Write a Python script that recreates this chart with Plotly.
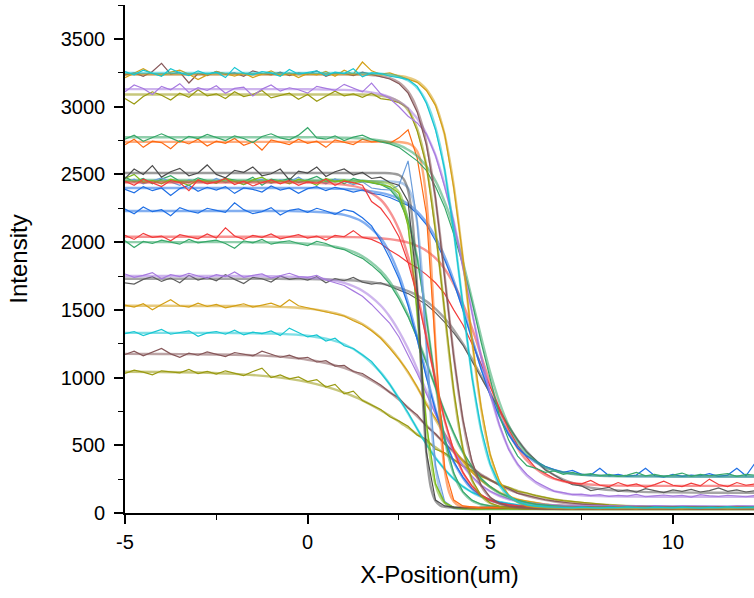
import plotly.graph_objects as go

# ---------------- data ----------------
# measured profiles (x step 0.25 from -5 to 12.25)
X_DATA = [round(-5 + 0.25 * i, 2) for i in range(70)]
# fit-curve knots
X_FIT = [-5, -4, -3, -2, -1, -0.5, 0, 0.5, 1, 1.5, 2, 2.25, 2.5, 2.625, 2.75, 2.875, 3, 3.125,
         3.25, 3.375, 3.5, 3.625, 3.75, 3.875, 4, 4.125, 4.25, 4.375, 4.5, 4.625, 4.75, 4.875,
         5, 5.25, 5.5, 5.75, 6, 6.5, 7, 7.5, 8, 9, 10, 11, 12.5]

cyan_3250 = [3260, 3235, 3270, 3245, 3225, 3280, 3250, 3230, 3265, 3240,
             3255, 3215, 3290, 3245, 3235, 3260, 3250, 3225, 3275, 3240,
             3250, 3265, 3230, 3255, 3245, 3280, 3220, 3250, 3245, 3225,
             3215, 3200, 3150, 3025, 2830, 2540, 2075, 1540, 1000, 620,
             360, 210, 130, 85, 60, 50, 48, 42, 45, 38,
             44, 40, 36, 42, 39, 45, 41, 37, 43, 40,
             38, 44, 41, 36, 42, 40, 45, 39, 41, 43]
cyan_3250_fit = [3250, 3250, 3250, 3250, 3250, 3250, 3250, 3250, 3250, 3249,
                 3243, 3236, 3222, 3210, 3194, 3170, 3139, 3096, 3035, 2955, 2846, 2711, 2534, 2322,
                 2082, 1812, 1533, 1263, 1013, 794, 611, 467, 355, 204, 123, 82, 62, 45, 41, 40,
                 40, 40, 40, 40, 40]

gold_3240 = [3215, 3250, 3280, 3245, 3230, 3255, 3270, 3240, 3200, 3235,
             3260, 3245, 3225, 3250, 3215, 3240, 3265, 3230, 3250, 3215,
             3245, 3235, 3260, 3225, 3270, 3240, 3330, 3265, 3240, 3250,
             3225, 3205, 3180, 3120, 3010, 2800, 2400, 1890, 1270, 780,
             430, 235, 135, 80, 55, 45, 40, 38, 36, 33,
             37, 35, 32, 38, 34, 36, 33, 37, 35, 34,
             36, 33, 38, 35, 34, 37, 32, 36, 35, 38]
gold_3240_fit = [3240, 3240, 3240, 3240, 3240, 3240, 3240, 3240, 3240, 3240,
                 3237, 3234, 3228, 3223, 3215, 3204, 3187, 3163, 3129, 3080, 3016, 2920, 2795, 2625,
                 2416, 2163, 1878, 1577, 1279, 1006, 772, 577, 426, 231, 131, 80, 56, 40, 36, 35,
                 35, 35, 35, 35, 35]

brown_3240 = [3235, 3250, 3225, 3260, 3320, 3240, 3255, 3175, 3245, 3230,
              3260, 3240, 3250, 3225, 3265, 3245, 3235, 3255, 3230, 3250,
              3240, 3265, 3225, 3250, 3245, 3230, 3255, 3240, 3220, 3205,
              3170, 3100, 2960, 2720, 2330, 1760, 1150, 690, 380, 205,
              115, 72, 50, 42, 36, 33, 31, 28, 32, 30,
              27, 31, 29, 33, 30, 28, 32, 29, 31, 30,
              28, 32, 30, 27, 31, 29, 33, 30, 28, 31]
brown_3240_fit = [3240, 3240, 3240, 3240, 3240, 3240, 3240, 3240, 3240, 3237,
                  3226, 3211, 3179, 3151, 3112, 3057, 2977, 2874, 2733, 2547, 2319, 2052, 1754, 1452,
                  1163, 903, 685, 508, 373, 274, 200, 149, 113, 69, 49, 39, 35, 31, 30, 30,
                  30, 30, 30, 30, 30]

olive_3090 = [3060, 3020, 3075, 3110, 3085, 3050, 3100, 3070, 3125, 3080,
              3095, 3060, 3110, 3075, 3090, 3120, 3065, 3085, 3100, 3055,
              3090, 3040, 3075, 3115, 3080, 3095, 3070, 3100, 3060, 3050,
              3030, 2990, 2820, 2570, 2080, 1490, 900, 470, 245, 128,
              74, 50, 38, 35, 31, 28, 32, 30, 27, 31,
              29, 33, 30, 28, 31, 29, 32, 30, 28, 31,
              30, 27, 32, 29, 31, 30, 28, 32, 29, 31]
olive_3090_fit = [3090, 3090, 3090, 3090, 3090, 3090, 3090, 3090, 3090, 3090,
                  3080, 3067, 3038, 3013, 2974, 2919, 2836, 2720, 2564, 2356, 2096, 1802, 1484, 1171,
                  896, 660, 477, 342, 241, 174, 125, 94, 72, 48, 38, 34, 32, 30, 30, 30,
                  30, 30, 30, 30, 30]

purple_3130 = [3110, 3160, 3135, 3090, 3150, 3125, 3170, 3105, 3140, 3120,
               3155, 3100, 3135, 3145, 3080, 3130, 3160, 3115, 3140, 3125,
               3100, 3150, 3135, 3120, 3165, 3140, 3110, 3175, 3095, 3060,
               3000, 2930, 2880, 2800, 2640, 2410, 2150, 1810, 1480, 1150,
               880, 650, 470, 360, 285, 230, 195, 160, 150, 135,
               140, 128, 135, 122, 130, 125, 138, 120, 127, 133,
               124, 130, 118, 135, 126, 122, 131, 127, 120, 129]
purple_3130_fit = [3130, 3130, 3130, 3130, 3130, 3130, 3129, 3127, 3124, 3115,
                   3092, 3070, 3037, 3016, 2989, 2952, 2913, 2862, 2799, 2724, 2642, 2540, 2423, 2290,
                   2152, 1992, 1827, 1658, 1490, 1321, 1158, 1014, 879, 647, 478, 358, 277, 185, 146, 131,
                   125, 121, 120, 120, 120]

green_2775 = [2760, 2790, 2745, 2775, 2800, 2770, 2740, 2780, 2765, 2795,
              2770, 2750, 2785, 2765, 2735, 2780, 2800, 2770, 2755, 2790,
              2845, 2770, 2760, 2785, 2750, 2775, 2790, 2760, 2740, 2725,
              2700, 2650, 2600, 2530, 2410, 2260, 2060, 1830, 1560, 1260,
              980, 720, 540, 420, 350, 330, 300, 310, 285, 300,
              280, 290, 275, 285, 270, 280, 300, 275, 285, 270,
              280, 295, 270, 285, 275, 280, 290, 270, 285, 280]
green_2775_fit = [2775, 2775, 2775, 2775, 2775, 2775, 2775, 2775, 2771, 2765,
                  2751, 2737, 2717, 2702, 2682, 2662, 2635, 2600, 2560, 2512, 2452, 2382, 2299, 2209,
                  2101, 1983, 1856, 1720, 1578, 1437, 1300, 1164, 1037, 819, 648, 525, 438, 340, 299, 282,
                  275, 271, 270, 270, 270]

orange_2740 = [2720, 2760, 2700, 2745, 2735, 2690, 2750, 2725, 2760, 2710,
               2745, 2730, 2765, 2715, 2740, 2680, 2755, 2735, 2720, 2760,
               2730, 2745, 2700, 2755, 2735, 2720, 2760, 2740, 2745, 2730,
               2770, 2830, 2620, 2210, 1220, 330, 95, 52, 45, 38,
               42, 39, 44, 37, 41, 40, 36, 43, 39, 41,
               38, 42, 40, 37, 44, 39, 41, 38, 42, 40,
               43, 38, 41, 39, 37, 42, 40, 44, 38, 41]
orange_2740_fit = [2740, 2740, 2740, 2740, 2740, 2740, 2740, 2740, 2740, 2740,
                   2740, 2740, 2739, 2736, 2729, 2712, 2670, 2562, 2319, 1863, 1236, 669, 321, 153,
                   85, 57, 47, 43, 41, 40, 40, 40, 40, 40, 40, 40, 40, 40, 40, 40,
                   40, 40, 40, 40, 40]

dgray_2510 = [2470, 2540, 2500, 2565, 2480, 2520, 2545, 2490, 2510, 2570,
              2500, 2475, 2530, 2515, 2555, 2490, 2505, 2540, 2460, 2525,
              2510, 2555, 2485, 2520, 2540, 2495, 2515, 2470, 2480, 2440,
              2420, 2300, 1650, 450, 95, 52, 44, 40, 37, 42,
              39, 41, 38, 43, 40, 36, 42, 39, 41, 38,
              40, 43, 37, 41, 39, 42, 38, 40, 44, 39,
              41, 38, 42, 40, 37, 43, 39, 41, 40, 38]
dgray_2510_fit = [2510, 2510, 2510, 2510, 2510, 2510, 2510, 2510, 2510, 2510,
                  2510, 2509, 2496, 2467, 2382, 2149, 1658, 974, 443, 186, 89, 56, 45, 42,
                  41, 40, 40, 40, 40, 40, 40, 40, 40, 40, 40, 40, 40, 40, 40, 40,
                  40, 40, 40, 40, 40]

red_2440 = [2450, 2420, 2465, 2435, 2410, 2455, 2440, 2380, 2460, 2430,
            2445, 2470, 2425, 2450, 2415, 2440, 2460, 2430, 2455, 2420,
            2445, 2435, 2465, 2420, 2450, 2440, 2420, 2300, 2250, 2160,
            2040, 1850, 1600, 1290, 970, 690, 460, 300, 200, 135,
            95, 72, 60, 52, 47, 44, 42, 39, 41, 40,
            38, 42, 40, 37, 41, 39, 43, 40, 38, 41,
            39, 42, 40, 38, 41, 40, 37, 42, 39, 41]
red_2440_fit = [2440, 2440, 2440, 2440, 2440, 2440, 2440, 2435, 2425, 2397,
                2313, 2226, 2094, 2003, 1893, 1766, 1626, 1470, 1305, 1139, 981, 825, 686, 563,
                458, 371, 299, 242, 196, 160, 131, 110, 93, 71, 58, 50, 46, 42, 40, 40,
                40, 40, 40, 40, 40]

lime_2450 = [2470, 2500, 2440, 2455, 2430, 2465, 2445, 2420, 2460, 2450,
             2435, 2470, 2445, 2425, 2460, 2480, 2440, 2455, 2430, 2465,
             2450, 2420, 2470, 2445, 2460, 2435, 2455, 2440, 2430, 2410,
             2360, 2120, 1480, 660, 215, 78, 42, 33, 31, 28,
             32, 29, 31, 30, 27, 33, 30, 28, 31, 29,
             30, 32, 28, 31, 29, 30, 33, 27, 30, 31,
             29, 31, 30, 28, 32, 30, 29, 31, 28, 30]
lime_2450_fit = [2450, 2450, 2450, 2450, 2450, 2450, 2450, 2450, 2450, 2450,
                 2445, 2431, 2368, 2286, 2131, 1869, 1484, 1049, 652, 376, 209, 120, 74, 51,
                 40, 35, 32, 31, 30, 30, 30, 30, 30, 30, 30, 30, 30, 30, 30, 30,
                 30, 30, 30, 30, 30]

lblue_2450 = [2440, 2465, 2430, 2455, 2475, 2445, 2420, 2460, 2450, 2435,
              2470, 2440, 2455, 2425, 2450, 2465, 2435, 2460, 2445, 2480,
              2440, 2455, 2430, 2465, 2450, 2425, 2445, 2400, 2390, 2385,
              2420, 2600, 2150, 1250, 350, 85, 40, 32, 30, 28,
              31, 29, 32, 28, 30, 31, 29, 33, 30, 28,
              31, 30, 28, 32, 29, 31, 30, 28, 31, 29,
              30, 32, 29, 31, 28, 30, 31, 29, 32, 30]
lblue_2450_fit = [2450, 2450, 2450, 2450, 2450, 2450, 2450, 2450, 2450, 2450,
                  2450, 2449, 2442, 2430, 2399, 2322, 2140, 1780, 1240, 700, 340, 158, 81, 50,
                  37, 33, 31, 30, 30, 30, 30, 30, 30, 30, 30, 30, 30, 30, 30, 30,
                  30, 30, 30, 30, 30]

green_2460 = [2480, 2445, 2470, 2430, 2465, 2490, 2450, 2440, 2475, 2455,
              2435, 2470, 2460, 2445, 2480, 2420, 2465, 2450, 2470, 2440,
              2460, 2485, 2445, 2465, 2430, 2470, 2450, 2440, 2425, 2390,
              2310, 2160, 1880, 1440, 960, 550, 295, 158, 95, 65,
              52, 46, 43, 40, 42, 38, 41, 39, 43, 40,
              38, 41, 42, 39, 40, 37, 42, 40, 39, 41,
              40, 38, 42, 41, 39, 40, 43, 38, 41, 40]
green_2460_fit = [2460, 2460, 2460, 2460, 2460, 2460, 2460, 2460, 2460, 2455,
                  2433, 2400, 2325, 2262, 2172, 2046, 1886, 1683, 1448, 1199, 955, 732, 546, 398,
                  289, 209, 154, 117, 91, 74, 63, 55, 50, 45, 42, 41, 40, 40, 40, 40,
                  40, 40, 40, 40, 40]

blue_2400 = [2390, 2365, 2410, 2380, 2400, 2345, 2395, 2420, 2375, 2405,
             2385, 2410, 2360, 2400, 2390, 2370, 2415, 2385, 2400, 2360,
             2395, 2410, 2380, 2405, 2390, 2370, 2385, 2360, 2350, 2330,
             2300, 2270, 2210, 2130, 2010, 1870, 1700, 1500, 1280, 1060,
             870, 710, 580, 480, 420, 380, 345, 320, 300, 315,
             285, 280, 330, 275, 285, 270, 280, 330, 275, 265,
             285, 270, 280, 275, 290, 270, 280, 330, 275, 370]
blue_2400_fit = [2400, 2400, 2400, 2400, 2400, 2400, 2400, 2397, 2393, 2384,
                 2364, 2347, 2321, 2302, 2281, 2257, 2225, 2189, 2147, 2095, 2036, 1970, 1895, 1810,
                 1716, 1616, 1510, 1401, 1290, 1182, 1075, 973, 877, 715, 585, 489, 419, 338, 300, 283,
                 276, 271, 270, 270, 270]

blue_2230 = [2245, 2210, 2260, 2225, 2240, 2195, 2255, 2230, 2215, 2250,
             2235, 2220, 2290, 2240, 2210, 2225, 2255, 2200, 2235, 2245,
             2220, 2250, 2230, 2205, 2240, 2225, 2180, 2120, 2010, 1880,
             1730, 1530, 1280, 1000, 760, 540, 380, 265, 180, 128,
             95, 75, 60, 52, 48, 44, 42, 40, 43, 39,
             41, 38, 42, 40, 37, 43, 39, 41, 40, 38,
             42, 39, 41, 40, 38, 43, 40, 39, 42, 40]
blue_2230_fit = [2230, 2230, 2230, 2230, 2230, 2229, 2226, 2219, 2201, 2151,
                 2031, 1919, 1761, 1663, 1551, 1428, 1297, 1161, 1026, 892, 767, 651, 546, 456,
                 377, 314, 259, 213, 178, 150, 125, 108, 93, 73, 60, 52, 47, 43, 41, 40,
                 40, 40, 40, 40, 40]

red_2040 = [2050, 2020, 2065, 2035, 2045, 2010, 2055, 2040, 2025, 2060,
            2030, 2105, 2045, 2020, 2050, 2035, 2060, 2025, 2040, 2055,
            2030, 2045, 2015, 2050, 2040, 2085, 2035, 2020, 1990, 1940,
            1900, 1850, 1810, 1760, 1700, 1620, 1500, 1390, 1250, 1100,
            930, 770, 620, 500, 410, 330, 290, 255, 235, 220,
            215, 240, 205, 195, 225, 200, 215, 190, 210, 235,
            205, 195, 220, 200, 250, 210, 195, 225, 205, 215]
red_2040_fit = [2040, 2040, 2040, 2040, 2040, 2040, 2040, 2040, 2038, 2035,
                2029, 2022, 2012, 2005, 1997, 1987, 1972, 1957, 1937, 1911, 1882, 1847, 1803, 1751,
                1690, 1624, 1545, 1459, 1365, 1265, 1161, 1057, 956, 763, 603, 478, 388, 281, 233, 214,
                206, 201, 200, 200, 200]

green_2000 = [2010, 1960, 2005, 1990, 2015, 2000, 1985, 2020, 1995, 2005,
              2015, 1990, 1955, 2010, 1995, 2020, 1985, 2000, 2010, 1990,
              1975, 2005, 1990, 1960, 1945, 1910, 1880, 1830, 1770, 1690,
              1580, 1450, 1290, 1110, 925, 750, 590, 450, 345, 255,
              195, 150, 118, 95, 78, 64, 58, 52, 48, 46,
              44, 42, 45, 41, 43, 40, 42, 44, 41, 40,
              43, 41, 40, 42, 44, 41, 40, 43, 42, 41]
green_2000_fit = [2000, 2000, 2000, 2000, 1998, 1995, 1989, 1977, 1951, 1896,
                  1790, 1708, 1596, 1532, 1461, 1385, 1298, 1208, 1118, 1024, 930, 838, 748, 665,
                  587, 510, 448, 389, 338, 291, 252, 218, 189, 144, 113, 89, 74, 56, 47, 43,
                  41, 40, 40, 40, 40]

purple_1750 = [1765, 1740, 1755, 1775, 1730, 1760, 1745, 1770, 1750, 1735,
               1760, 1745, 1780, 1740, 1755, 1765, 1735, 1750, 1770, 1745,
               1740, 1755, 1720, 1700, 1680, 1640, 1600, 1540, 1470, 1400,
               1300, 1170, 1030, 880, 730, 580, 455, 350, 270, 205,
               160, 128, 104, 88, 76, 68, 62, 58, 55, 53,
               52, 55, 50, 53, 51, 49, 52, 50, 54, 51,
               50, 53, 51, 49, 52, 50, 48, 53, 51, 50]
purple_1750_fit = [1750, 1750, 1750, 1750, 1748, 1745, 1739, 1726, 1699, 1641,
                   1532, 1449, 1342, 1279, 1213, 1140, 1062, 980, 900, 820, 739, 660, 587, 521,
                   458, 400, 351, 307, 268, 232, 203, 179, 159, 125, 101, 86, 74, 61, 55, 52,
                   51, 50, 50, 50, 50]

gray_1730 = [1700, 1690, 1725, 1745, 1710, 1735, 1700, 1755, 1720, 1740,
             1715, 1760, 1725, 1695, 1740, 1730, 1705, 1750, 1725, 1735,
             1720, 1745, 1700, 1730, 1715, 1740, 1705, 1690, 1700, 1675,
             1650, 1620, 1580, 1540, 1480, 1410, 1330, 1240, 1120, 1000,
             880, 760, 640, 540, 450, 390, 320, 280, 240, 210,
             200, 165, 175, 190, 160, 170, 155, 180, 165, 150,
             170, 160, 175, 155, 165, 185, 160, 170, 155, 165]
gray_1730_fit = [1730, 1730, 1730, 1730, 1730, 1728, 1727, 1725, 1720, 1711,
                 1694, 1681, 1662, 1651, 1638, 1623, 1605, 1585, 1563, 1537, 1507, 1474, 1438, 1397,
                 1352, 1302, 1250, 1194, 1138, 1073, 1011, 948, 885, 758, 643, 539, 453, 324, 246, 202,
                 177, 158, 152, 150, 150]

gold_1530 = [1535, 1520, 1545, 1500, 1540, 1575, 1530, 1520, 1550, 1525,
             1540, 1515, 1530, 1545, 1520, 1535, 1550, 1525, 1575, 1530,
             1515, 1505, 1490, 1470, 1455, 1420, 1390, 1345, 1290, 1215,
             1135, 1045, 930, 800, 700, 590, 470, 385, 300, 240,
             195, 150, 125, 100, 88, 74, 65, 58, 54, 50,
             47, 46, 44, 43, 45, 42, 41, 43, 40, 42,
             41, 40, 42, 39, 41, 40, 42, 41, 39, 40]
gold_1530_fit = [1530, 1530, 1529, 1528, 1524, 1519, 1509, 1490, 1456, 1396,
                 1295, 1223, 1138, 1089, 1037, 983, 927, 868, 809, 749, 690, 632, 576, 523,
                 472, 423, 380, 339, 304, 269, 241, 214, 192, 153, 123, 101, 85, 64, 53, 47,
                 44, 41, 40, 40, 40]

cyan_1330 = [1325, 1340, 1310, 1335, 1355, 1320, 1330, 1345, 1305, 1330,
             1340, 1320, 1350, 1315, 1335, 1325, 1345, 1310, 1365, 1330,
             1300, 1315, 1270, 1290, 1235, 1215, 1170, 1120, 1035, 950,
             845, 740, 620, 505, 405, 322, 250, 195, 152, 122,
             98, 82, 70, 61, 55, 50, 47, 44, 43, 42,
             41, 43, 40, 42, 41, 39, 42, 40, 41, 43,
             40, 42, 41, 39, 40, 42, 41, 40, 43, 41]
cyan_1330_fit = [1330, 1330, 1330, 1329, 1325, 1319, 1309, 1287, 1246, 1167,
                 1038, 949, 846, 792, 735, 679, 621, 564, 510, 458, 409, 365, 323, 285,
                 252, 222, 195, 173, 154, 135, 121, 108, 98, 81, 69, 60, 54, 47, 43, 42,
                 41, 40, 40, 40, 40]

brown_1175 = [1170, 1195, 1160, 1185, 1215, 1175, 1150, 1180, 1165, 1190,
              1175, 1155, 1185, 1170, 1160, 1195, 1175, 1150, 1165, 1140,
              1150, 1115, 1125, 1085, 1090, 1045, 1030, 985, 945, 890,
              850, 775, 725, 640, 585, 510, 455, 385, 340, 280,
              245, 205, 180, 145, 130, 112, 98, 88, 78, 72,
              65, 60, 56, 53, 50, 48, 46, 45, 44, 43,
              42, 43, 41, 42, 41, 40, 42, 41, 40, 41]
brown_1175_fit = [1175, 1174, 1172, 1168, 1158, 1148, 1132, 1107, 1071, 1015,
                  938, 891, 837, 808, 778, 746, 714, 681, 648, 614, 580, 547, 514, 482,
                  450, 419, 390, 361, 334, 309, 285, 265, 243, 207, 175, 149, 127, 97, 75, 63,
                  54, 45, 42, 41, 40]

olive_1040 = [1030, 1055, 1040, 1020, 1050, 1045, 1035, 1060, 1030, 1045,
              1025, 1050, 1035, 1015, 1045, 1070, 1000, 1020, 990, 1005,
              970, 985, 930, 950, 880, 900, 830, 800, 765, 710,
              680, 640, 575, 545, 470, 445, 395, 345, 315, 270,
              245, 210, 190, 160, 148, 128, 115, 100, 92, 85,
              76, 70, 65, 60, 57, 54, 52, 49, 48, 46,
              45, 44, 43, 43, 42, 42, 41, 41, 41, 40]
olive_1040_fit = [1043, 1041, 1037, 1027, 1007, 990, 966, 933, 888, 832,
                  759, 718, 675, 651, 629, 605, 581, 557, 532, 508, 485, 461, 438, 415,
                  393, 372, 350, 330, 310, 291, 274, 257, 242, 212, 187, 164, 145, 113, 91, 75,
                  64, 51, 45, 42, 41]

X_TICKS = [-5, 0, 5, 10]
Y_TICKS = [0, 500, 1000, 1500, 2000, 2500, 3000, 3500]

# ---------------- styling ----------------
C = {
    "blue": "#1f6fe5", "lblue": "#6b9ddb", "red": "#f23c3c", "green": "#38a86a",
    "purple": "#a77ae0", "dgray": "#4d4d4d", "gray": "#5f5f5f", "gold": "#d4a017",
    "cyan": "#17c6d2", "brown": "#87585a", "olive": "#9a9a12", "orange": "#ff6a13",
    "lime": "#7dbb1a",
}

series = [
    (olive_1040, olive_1040_fit, C["olive"]),
    (brown_1175, brown_1175_fit, C["brown"]),
    (cyan_1330, cyan_1330_fit, C["cyan"]),
    (gold_1530, gold_1530_fit, C["gold"]),
    (gray_1730, gray_1730_fit, C["gray"]),
    (purple_1750, purple_1750_fit, C["purple"]),
    (green_2000, green_2000_fit, C["green"]),
    (red_2040, red_2040_fit, C["red"]),
    (blue_2230, blue_2230_fit, C["blue"]),
    (blue_2400, blue_2400_fit, C["blue"]),
    (green_2460, green_2460_fit, C["green"]),
    (lblue_2450, lblue_2450_fit, C["lblue"]),
    (lime_2450, lime_2450_fit, C["lime"]),
    (red_2440, red_2440_fit, C["red"]),
    (dgray_2510, dgray_2510_fit, C["dgray"]),
    (orange_2740, orange_2740_fit, C["orange"]),
    (green_2775, green_2775_fit, C["green"]),
    (olive_3090, olive_3090_fit, C["olive"]),
    (purple_3130, purple_3130_fit, C["purple"]),
    (brown_3240, brown_3240_fit, C["brown"]),
    (gold_3240, gold_3240_fit, C["gold"]),
    (cyan_3250, cyan_3250_fit, C["cyan"]),
]

fig = go.Figure()
for data, fit, col in series:
    fig.add_trace(go.Scatter(x=X_DATA, y=data, mode="lines",
                             line=dict(color=col, width=1.2), showlegend=False,
                             hoverinfo="skip"))
    fig.add_trace(go.Scatter(x=X_FIT, y=fit, mode="lines", opacity=0.55,
                             line=dict(color=col, width=2.4, shape="spline", smoothing=0.8),
                             showlegend=False, hoverinfo="skip"))

font_family = "Liberation Sans, Arial, sans-serif"
fig.update_layout(
    width=754, height=598,
    margin=dict(l=125, r=0, t=5, b=85),
    paper_bgcolor="white", plot_bgcolor="white",
    font=dict(family=font_family, color="black", size=20),
    showlegend=False,
    xaxis=dict(range=[-5, 12.22], tickvals=X_TICKS, ticktext=[str(v) for v in X_TICKS],
               showline=True, linecolor="black", linewidth=1.6, mirror=False,
               ticks="outside", ticklen=9, tickwidth=1.6, tickcolor="black",
               ticklabelstandoff=1,
               minor=dict(dtick=2.5, tick0=-5, ticks="outside", ticklen=5, tickwidth=1.4,
                          tickcolor="black", showgrid=False),
               showgrid=False, zeroline=False,
               tickfont=dict(size=20, family=font_family),
               title=dict(text="X-Position(um)", font=dict(size=24, family=font_family),
                          standoff=14)),
    yaxis=dict(range=[0, 3751], tickvals=Y_TICKS, ticktext=[str(v) for v in Y_TICKS],
               showline=True, linecolor="black", linewidth=1.6, mirror=False,
               ticks="outside", ticklen=9, tickwidth=1.6, tickcolor="black",
               ticklabelstandoff=5,
               minor=dict(dtick=250, tick0=0, ticks="outside", ticklen=5, tickwidth=1.4,
                          tickcolor="black", showgrid=False),
               showgrid=False, zeroline=False,
               tickfont=dict(size=20, family=font_family),
               title=dict(text="Intensity", font=dict(size=24, family=font_family),
                          standoff=26)),
)

fig.write_html("out.html")
